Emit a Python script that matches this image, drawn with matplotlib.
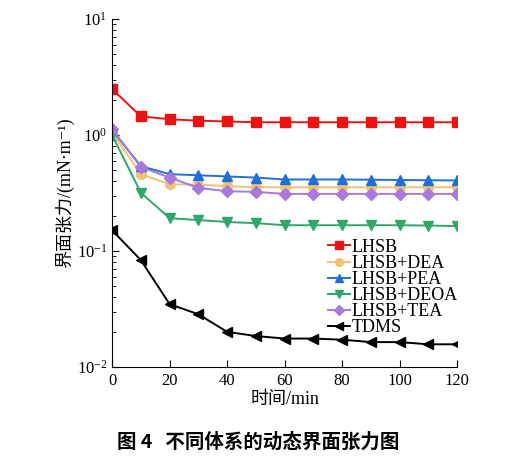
import numpy as np
import matplotlib
matplotlib.use("Agg")
import matplotlib.pyplot as plt
from matplotlib.ticker import LogLocator, NullFormatter

plt.rcParams['font.family'] = ['Liberation Serif', 'DejaVu Serif', 'Noto Sans CJK SC']
plt.rcParams['mathtext.fontset'] = 'stix'

time = [0, 10, 20, 30, 40, 50, 60, 70, 80, 90, 100, 110, 120]

lhsb = [2.49, 1.45, 1.37, 1.33, 1.31, 1.29, 1.29, 1.29, 1.29, 1.29, 1.29, 1.29, 1.29]
lhsb_dea = [1.05, 0.46, 0.377, 0.373, 0.363, 0.355, 0.355, 0.355, 0.355, 0.355, 0.355, 0.355, 0.355]
lhsb_pea = [1.10, 0.54, 0.46, 0.45, 0.44, 0.43, 0.414, 0.414, 0.414, 0.412, 0.41, 0.408, 0.406]
lhsb_deoa = [1.00, 0.318, 0.192, 0.185, 0.178, 0.174, 0.167, 0.167, 0.167, 0.167, 0.167, 0.166, 0.164]
lhsb_tea = [1.13, 0.53, 0.43, 0.35, 0.328, 0.324, 0.311, 0.311, 0.311, 0.311, 0.311, 0.311, 0.311]
tdms = [0.151, 0.0835, 0.0348, 0.0285, 0.0201, 0.0185, 0.0176, 0.0176, 0.0172, 0.0164, 0.0164, 0.0157, 0.0157]

labels = ["LHSB", "LHSB+DEA", "LHSB+PEA", "LHSB+DEOA", "LHSB+TEA", "TDMS"]
series = [lhsb, lhsb_dea, lhsb_pea, lhsb_deoa, lhsb_tea, tdms]
colors = ["#ee1111", "#f0c273", "#1f6fd8", "#2fa66a", "#a878dc", "#000000"]
markers = ["s", "o", "^", "v", "D", "<"]

fig = plt.figure(figsize=(5.12, 4.66), dpi=100)
ax = fig.add_axes([0.219, 0.2124, 0.674, 0.7466])

for vals, lab, c, m in zip(series, labels, colors, markers):
    ms = 6 if m == "D" else 7
    ax.plot(time, vals, color=c, marker=m, markersize=ms, linewidth=1.4, label=lab)

ax.set_yscale("log")
ax.set_ylim(0.01, 10)
ax.set_xlim(0, 120)
ax.set_xticks([0, 20, 40, 60, 80, 100, 120])
ax.yaxis.set_major_locator(LogLocator(base=10, numticks=5))
ax.yaxis.set_minor_locator(LogLocator(base=10, subs=np.arange(2, 10), numticks=10))
ax.yaxis.set_minor_formatter(NullFormatter())

ax.spines['top'].set_visible(False)
ax.spines['right'].set_visible(False)
ax.tick_params(direction='in', which='both', labelsize=12)
ax.tick_params(which='major', length=5)
ax.tick_params(which='minor', length=3)
ax.tick_params(axis='x', pad=4)

ax.set_xlabel("时间/min", fontsize=13, labelpad=2)
ax.set_ylabel("界面张力/(mN·m⁻¹)", fontsize=13, labelpad=2)

leg = ax.legend(loc='upper left', bbox_to_anchor=(0.59, 0.405), frameon=False, fontsize=13,
                handlelength=1.2, handletextpad=0.1, labelspacing=-0.05, borderpad=0.2)
for h in leg.legend_handles:
    h.set_markersize(5.5)

fig.text(0.505, 0.052, "图 4   不同体系的动态界面张力图", ha='center', va='center',
         fontsize=14, fontweight='bold', family=['Noto Sans CJK SC'])

fig.savefig("out.png", dpi=100)
